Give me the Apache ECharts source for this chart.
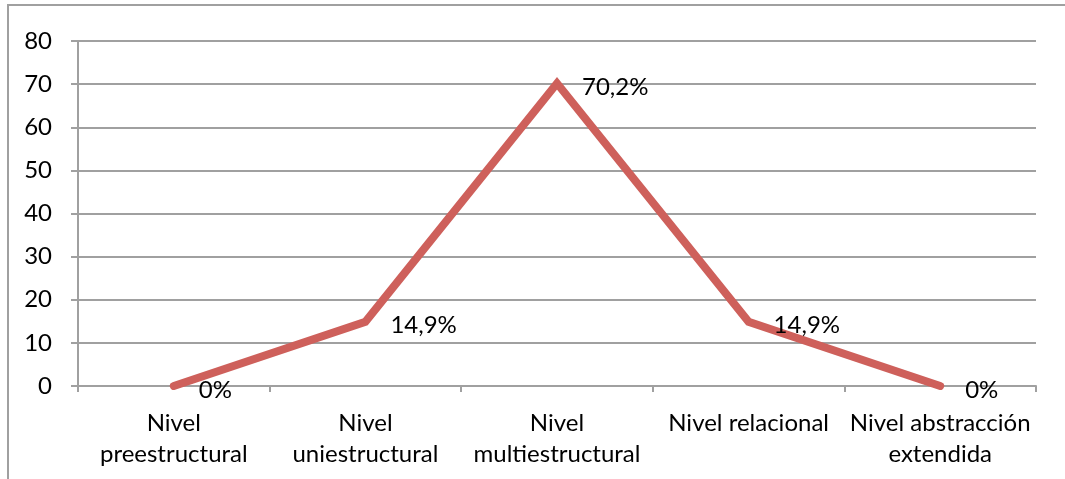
<!DOCTYPE html>
<html>
<head>
<meta charset="utf-8">
<script src="https://cdn.jsdelivr.net/npm/echarts@6/dist/echarts.min.js"></script>
<style>
  html, body { margin: 0; padding: 0; background: #fff; }
  #chart { width: 1065px; height: 479px; }
</style>
</head>
<body>
<div id="chart"></div>
<script>
// SOLO taxonomy levels and the share of answers at each level
const categories = [
  'Nivel\npreestructural',
  'Nivel\nuniestructural',
  'Nivel\nmultiestructural',
  'Nivel relacional',
  'Nivel abstracción\nextendida'
];
const percentages = [0, 14.9, 70.2, 14.9, 0];
const yTicks = { min: 0, max: 80, interval: 10 };

const FONT = 'Lato, "Open Sans", sans-serif';
const FONT_SIZE = 24;
const GRID_GRAY = '#a0a0a0';
const LINE_RED = '#CE605B';

const chart = echarts.init(document.getElementById('chart'), null, { renderer: 'canvas' });

chart.setOption({
  animation: false,
  backgroundColor: '#fff',
  textStyle: { fontFamily: FONT },
  graphic: [{
    type: 'rect',
    shape: { x: 8, y: 5, width: 1100, height: 520 },
    style: { fill: 'none', stroke: GRID_GRAY, lineWidth: 2 },
    silent: true,
    z: -1
  }],
  grid: { left: 78, right: 29, top: 41, bottom: 93 },
  xAxis: {
    type: 'category',
    data: categories,
    boundaryGap: true,
    axisLine: { show: true, lineStyle: { color: GRID_GRAY, width: 2 } },
    axisTick: { show: true, length: 6, lineStyle: { color: GRID_GRAY, width: 2 } },
    axisLabel: {
      color: '#000',
      fontFamily: FONT,
      fontSize: FONT_SIZE,
      lineHeight: 31,
      margin: 22,
      interval: 0
    }
  },
  yAxis: {
    type: 'value',
    min: yTicks.min,
    max: yTicks.max,
    interval: yTicks.interval,
    axisLine: { show: true, lineStyle: { color: GRID_GRAY, width: 2 } },
    axisTick: { show: true, length: 7, lineStyle: { color: GRID_GRAY, width: 2 } },
    splitLine: { show: true, lineStyle: { color: GRID_GRAY, width: 2 } },
    axisLabel: { color: '#000', fontFamily: FONT, fontSize: FONT_SIZE, margin: 26 }
  },
  series: [{
    type: 'line',
    data: percentages,
    symbol: 'circle',
    symbolSize: 2,
    showSymbol: true,
    itemStyle: { color: LINE_RED },
    lineStyle: { color: LINE_RED, width: 8, join: 'miter', cap: 'round' },
    label: {
      show: true,
      position: 'right',
      distance: 24,
      offset: [0, 4],
      color: '#000',
      fontFamily: FONT,
      fontSize: FONT_SIZE,
      formatter: p => String(p.value).replace('.', ',') + '%'
    }
  }]
});
</script>
</body>
</html>
